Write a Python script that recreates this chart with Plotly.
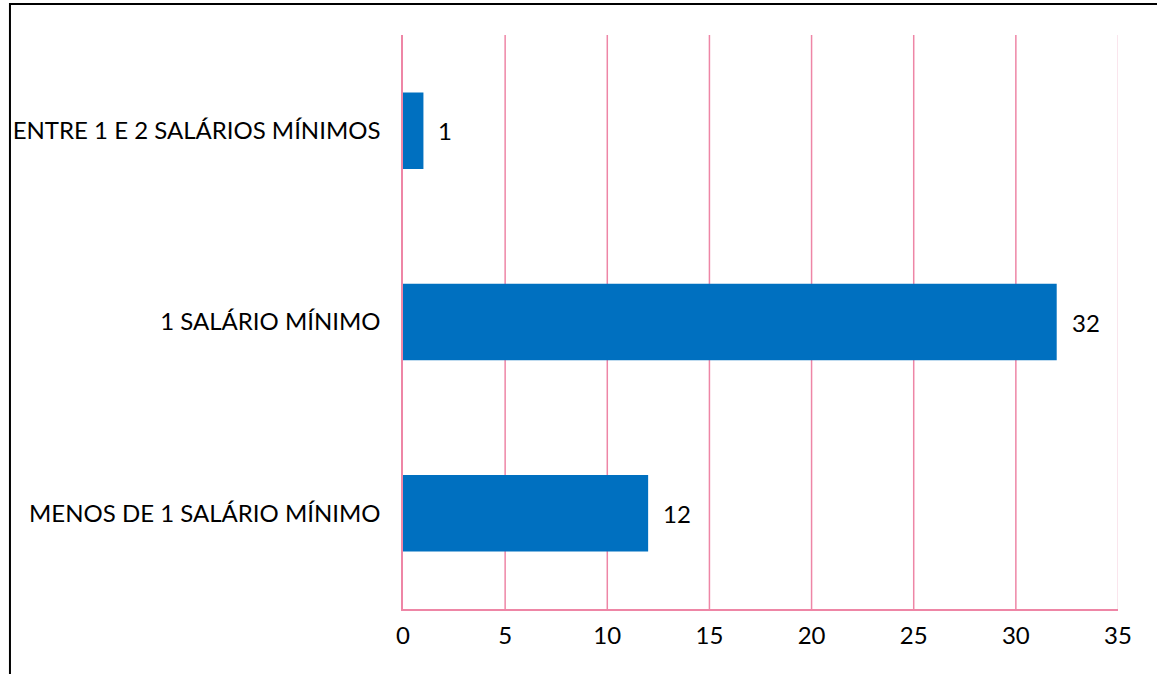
import plotly.graph_objects as go

# Faixas de renda (de baixo para cima no eixo vertical)
categorias = ["MENOS DE 1 SALÁRIO MÍNIMO", "1 SALÁRIO MÍNIMO", "ENTRE 1 E 2 SALÁRIOS MÍNIMOS"]
valores = [12, 32, 1]
ticks_x = [0, 5, 10, 15, 20, 25, 30, 35]

AZUL = "#0070C0"
ROSA = "#EE86A6"
FONTE = dict(family="Lato, Open Sans, sans-serif", size=24, color="#000000")

fig = go.Figure(
    go.Bar(
        x=valores,
        y=categorias,
        orientation="h",
        marker=dict(color=AZUL, line=dict(width=0)),
        hoverinfo="skip",
    )
)

# rótulos de valor à direita de cada barra
for cat, val in zip(categorias, valores):
    fig.add_annotation(
        x=val, y=cat, text=str(val), showarrow=False,
        xanchor="left", xshift=13, font=FONTE,
    )

# linhas de grade verticais em rosa (a última mais clara)
for t in ticks_x[1:]:
    fig.add_shape(type="line", xref="x", yref="paper", x0=t, x1=t, y0=0, y1=1,
                  line=dict(color="#F9DDE7" if t == ticks_x[-1] else ROSA, width=1.5),
                  layer="below")

# moldura do gráfico
fig.add_shape(type="rect", xref="paper", yref="paper",
              x0=-0.5497, x1=1.2, y0=-0.3, y1=1.054,
              line=dict(color="#000000", width=2), fillcolor="rgba(0,0,0,0)")

fig.update_layout(
    width=1157, height=674,
    margin=dict(l=403, r=39, t=35, b=65),
    paper_bgcolor="white", plot_bgcolor="white",
    bargap=0.6, showlegend=False, font=FONTE,
    xaxis=dict(
        range=[0, 35], tickvals=ticks_x, ticktext=[str(t) for t in ticks_x],
        showgrid=False,
        showline=True, linecolor=ROSA, linewidth=1.5,
        zeroline=False, ticks="", ticklabelstandoff=4, tickfont=FONTE,
        fixedrange=True,
    ),
    yaxis=dict(
        categoryorder="array", categoryarray=categorias,
        showgrid=False, showline=True, linecolor=ROSA, linewidth=1.5,
        ticks="", ticklabelstandoff=16, tickfont=FONTE, fixedrange=True,
    ),
)

fig.write_html("out.html")
